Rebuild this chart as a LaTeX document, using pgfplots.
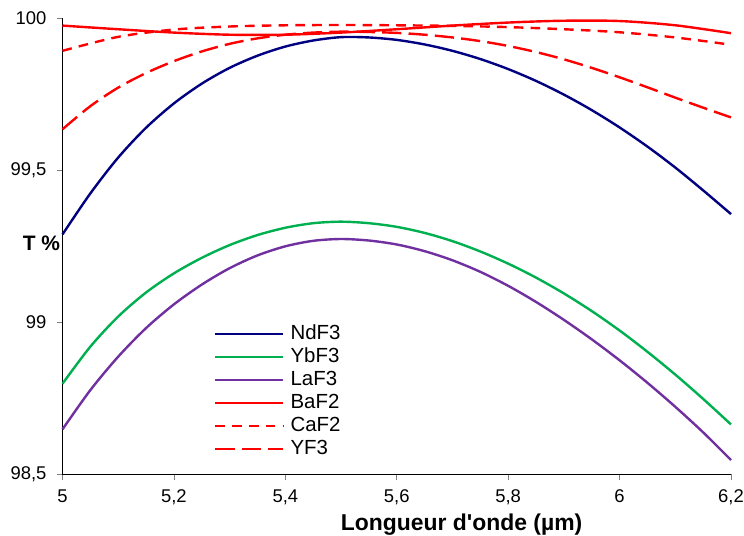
\documentclass[border=0pt]{standalone}
\usepackage{fontspec}
\setmainfont{Liberation Sans}
\usepackage{pgfplots}
\usepackage{pgfplotstable}
\pgfplotsset{compat=1.18}
\definecolor{ndcol}{HTML}{000080}
\definecolor{ybcol}{HTML}{00B050}
\definecolor{lacol}{HTML}{7030A0}
\definecolor{redcol}{HTML}{FF0000}

\pgfplotstableread{
x y
5.00 99.288
5.05 99.423
5.10 99.541
5.15 99.639
5.20 99.719
5.25 99.784
5.30 99.836
5.35 99.876
5.40 99.906
5.45 99.926
5.50 99.937
5.55 99.936
5.60 99.928
5.65 99.913
5.70 99.892
5.75 99.865
5.80 99.832
5.85 99.793
5.90 99.748
5.95 99.697
6.00 99.640
6.05 99.577
6.10 99.508
6.15 99.433
6.20 99.355
}\ndftab

\pgfplotstableread{
x y
5.00 98.797
5.05 98.919
5.10 99.018
5.15 99.097
5.20 99.160
5.25 99.211
5.30 99.253
5.35 99.286
5.40 99.310
5.45 99.325
5.50 99.330
5.55 99.325
5.60 99.313
5.65 99.293
5.70 99.266
5.75 99.232
5.80 99.192
5.85 99.146
5.90 99.094
5.95 99.036
6.00 98.972
6.05 98.902
6.10 98.827
6.15 98.747
6.20 98.663
}\ybftab

\pgfplotstableread{
x y
5.00 98.647
5.05 98.776
5.10 98.886
5.15 98.980
5.20 99.058
5.25 99.123
5.30 99.177
5.35 99.219
5.40 99.249
5.45 99.267
5.50 99.273
5.55 99.268
5.60 99.255
5.65 99.233
5.70 99.203
5.75 99.165
5.80 99.119
5.85 99.066
5.90 99.007
5.95 98.943
6.00 98.874
6.05 98.800
6.10 98.721
6.15 98.637
6.20 98.546
}\laftab

\pgfplotstableread{
x y
5.00 99.975
5.10 99.963
5.20 99.952
5.30 99.945
5.40 99.945
5.50 99.952
5.60 99.963
5.70 99.975
5.80 99.985
5.90 99.991
6.00 99.990
6.10 99.976
6.20 99.950
}\baftab

\pgfplotstableread{
x y
5.00 99.892
5.10 99.938
5.20 99.962
5.30 99.972
5.40 99.976
5.50 99.977
5.60 99.976
5.70 99.974
5.80 99.970
5.90 99.963
6.00 99.953
6.10 99.936
6.20 99.912
}\caftab

\pgfplotstableread{
x y
5.00 99.634
5.05 99.710
5.10 99.771
5.15 99.819
5.20 99.858
5.25 99.890
5.30 99.915
5.35 99.933
5.40 99.945
5.45 99.952
5.50 99.955
5.55 99.954
5.60 99.951
5.65 99.945
5.70 99.936
5.75 99.924
5.80 99.908
5.85 99.888
5.90 99.864
5.95 99.836
6.00 99.805
6.05 99.772
6.10 99.738
6.15 99.705
6.20 99.673
}\yftab

\begin{document}
\begin{tikzpicture}
\begin{axis}[
  name=ax,
  scale only axis,
  width=668.5bp, height=456bp,
  xmin=5, xmax=6.2, ymin=98.5, ymax=100,
  axis lines=left,
  axis line style={-, black, line width=1bp},
  every outer x axis line/.append style={-},
  every outer y axis line/.append style={-},
  tick align=outside,
  major tick length=5.5bp,
  tick style={gray, line width=0.8bp},
  xtick={5,5.2,5.4,5.6,5.8,6,6.2},
  ytick={98.5,99,99.5,100},
  /pgf/number format/use comma,
  /pgf/number format/assume math mode=true,
  ticklabel style={font=\fontsize{18.5}{21}\selectfont},
  xticklabel style={yshift=-7bp},
  yticklabel style={xshift=-7bp},
  xlabel={Longueur d{\XeTeXglyph\XeTeXcharglyph"27}onde (µm)},
  xlabel style={font=\fontsize{23}{26}\selectfont\bfseries, at={(rel axis cs:0.597,0)}, anchor=north, yshift=-36bp},
  ylabel={T \%},
  ylabel style={font=\fontsize{21}{24}\selectfont\bfseries, rotate=-90, at={(rel axis cs:0,0.507)}, anchor=east, xshift=1bp},
  clip=false,
  legend style={draw=none, fill=none, at={(axis cs:5.272,98.993)}, anchor=north west,
    font=\fontsize{20.5}{23}\selectfont, inner sep=0pt,
    nodes={inner sep=0pt, text height=15bp, text depth=4bp},
    row sep=4bp, column sep=6bp},
  legend cell align=left,
  legend image code/.code={\draw[#1] (0bp,0bp) -- (68bp,0bp);},
  every axis plot/.append style={line width=2.4bp, smooth},
]
\addplot[ndcol, no markers] table {\ndftab};
\addlegendentry{NdF3}
\addplot[ybcol, no markers] table {\ybftab};
\addlegendentry{YbF3}
\addplot[lacol, no markers] table {\laftab};
\addlegendentry{LaF3}
\addplot[redcol, no markers] table {\baftab};
\addlegendentry{BaF2}
\addplot[redcol, no markers, dash pattern=on 9.6bp off 7.2bp] table {\caftab};
\addlegendentry{CaF2}
\addplot[redcol, no markers, dash pattern=on 19.2bp off 7.2bp] table {\yftab};
\addlegendentry{YF3}
\end{axis}
\pgfresetboundingbox
\path ([xshift=-62.5bp,yshift=-62bp]ax.south west) rectangle ([xshift=13bp,yshift=18bp]ax.north east);
\end{tikzpicture}
\end{document}
